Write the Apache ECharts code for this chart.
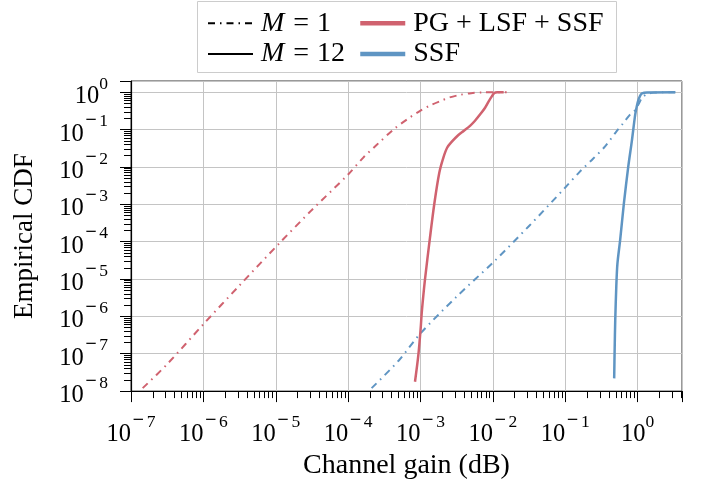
<!DOCTYPE html>
<html><head><meta charset="utf-8">
<script src="https://cdn.jsdelivr.net/npm/echarts@6/dist/echarts.min.js"></script>
<style>html,body{margin:0;padding:0;background:#fff}#c{width:701px;height:485px}</style>
</head><body><div id="c"></div>
<script>
// Tick exponents shown as 10^n labels
const xTickExponents = [-7, -6, -5, -4, -3, -2, -1, 0];
const yTickExponents = [-8, -7, -6, -5, -4, -3, -2, -1, 0];
const legendStyleNames = ['M = 1', 'M = 12'];
const legendColorNames = ['PG + LSF + SSF', 'SSF'];

// PG + LSF + SSF, M = 1 (dash-dot, red)
const pgM1X = [1.45e-7, 3.16e-7, 1.0e-6, 3.16e-6, 1.15e-5, 3.16e-5, 1.0e-4, 1.62e-4, 2.51e-4, 4.21e-4, 6.46e-4, 1.0e-3, 1.41e-3, 1.86e-3, 2.51e-3, 3.51e-3, 5.01e-3, 7.08e-3, 0.0155];
const pgM1Y = [1.2e-8, 5.25e-8, 6.17e-7, 6.76e-6, 9.55e-5, 7.08e-4, 6.31e-3, 0.0178, 0.0398, 0.1, 0.186, 0.324, 0.457, 0.575, 0.724, 0.851, 0.944, 0.989, 1.0];

// PG + LSF + SSF, M = 12 (solid, red)
const pgM12X = [8.39e-4, 9.33e-4, 1.007e-3, 1.04e-3, 1.15e-3, 1.35e-3, 1.55e-3, 1.82e-3, 2.07e-3, 2.34e-3, 2.69e-3, 3.31e-3, 3.98e-3, 4.83e-3, 5.62e-3, 6.61e-3, 7.76e-3, 8.71e-3, 9.66e-3, 0.0105, 0.0115, 0.0141];
const pgM12Y = [1.78e-8, 9.12e-8, 5.01e-7, 1.26e-6, 9.33e-6, 1.26e-4, 1.02e-3, 7.08e-3, 0.0178, 0.0331, 0.0468, 0.0708, 0.0933, 0.126, 0.17, 0.251, 0.38, 0.562, 0.776, 0.955, 0.993, 1.0];

// SSF, M = 1 (dash-dot, blue)
const ssfM1X = [2.11e-4, 5.01e-4, 9.84e-4, 3.16e-3, 0.0102, 0.0316, 0.1, 0.158, 0.242, 0.355, 0.513, 0.631, 0.785, 0.933, 1.023, 1.122, 1.202, 1.38, 1.66, 2.24, 3.31];
const ssfM1Y = [1.2e-8, 6.61e-8, 3.39e-7, 3.39e-6, 2.85e-5, 2.63e-4, 2.82e-3, 7.41e-3, 0.0166, 0.0355, 0.0912, 0.148, 0.251, 0.339, 0.468, 0.661, 0.776, 0.912, 0.977, 0.995, 1.0];

// SSF, M = 12 (solid, blue)
const ssfM12X = [0.474, 0.481, 0.49, 0.507, 0.525, 0.575, 0.646, 0.741, 0.832, 0.925, 0.977, 1.028, 1.084, 1.148, 1.35, 3.31];
const ssfM12Y = [2.19e-8, 1.26e-7, 7.59e-7, 6.31e-6, 2.51e-5, 1.17e-4, 1.07e-3, 0.01, 0.0501, 0.251, 0.437, 0.631, 0.813, 0.933, 0.989, 1.0];

const RED = '#d0626f';
const BLUE = '#5f95c3';
const FONT = 'Liberation Serif';
const DASHDOT = [7, 5, 1.5, 5];

function pairs(xs, ys) { return xs.map((x, i) => [x, ys[i]]); }

function expLabel(exps) {
  return function (v) {
    const e = Math.log10(v);
    const r = Math.round(e);
    if (Math.abs(e - r) > 1e-6 || exps.indexOf(r) < 0) return '';
    return r < 0 ? '{b|10}{m|\u2212}{s|' + (-r) + '}' : '{b|10}{s|' + r + '}';
  };
}
const labelRich = {
  b: { fontFamily: FONT, fontSize: 24.5, color: '#000', lineHeight: 34, verticalAlign: 'bottom' },
  m: { fontFamily: 'DejaVu Sans', fontSize: 15, color: '#000', lineHeight: 18, verticalAlign: 'top', padding: [0, 2, 0, 1] },
  s: { fontFamily: FONT, fontSize: 17.5, color: '#000', lineHeight: 18, verticalAlign: 'top' }
};

const chart = echarts.init(document.getElementById('c'), null, { renderer: 'canvas' });

const legendText = {
  fontFamily: FONT, fontSize: 28, color: '#000', lineHeight: 30.6,
  rich: {
    g: { width: 3, lineHeight: 30.6 },
    i: { fontFamily: FONT, fontSize: 28, fontStyle: 'italic', color: '#000', lineHeight: 30.6 },
    e: { fontFamily: FONT, fontSize: 28, color: '#000', lineHeight: 30.6, padding: [0, 8, 0, 9] },
    t: { fontFamily: FONT, fontSize: 28, color: '#000', lineHeight: 30.6 }
  }
};
function legendFormatter(name) {
  if (name.indexOf('M = ') === 0) return '{g|}{i|M}{e|=}{t|' + name.slice(4) + '}';
  return '{g|}{t|' + name + '}';
}

chart.setOption({
  animation: false,
  backgroundColor: '#fff',
  textStyle: { fontFamily: FONT },
  graphic: [{
    type: 'rect', z: 0,
    shape: { x: 197.5, y: 1.5, width: 419, height: 71 },
    style: { fill: '#fff', stroke: '#cccccc', lineWidth: 1 }
  }],
  legend: [{
    orient: 'vertical', left: 207, top: 8, padding: 0,
    itemWidth: 45, itemHeight: 14, itemGap: 0, selectedMode: false,
    data: legendStyleNames, lineStyle: { width: 2 }, itemStyle: { opacity: 0 },
    formatter: legendFormatter, textStyle: legendText, z: 5
  }, {
    orient: 'vertical', left: 358, top: 8, padding: 0,
    itemWidth: 45, itemHeight: 14, itemGap: 0, selectedMode: false,
    data: legendColorNames, lineStyle: { width: 4.5 }, itemStyle: { opacity: 0 },
    formatter: legendFormatter, textStyle: legendText, z: 5
  }],
  grid: {
    left: 131, right: 19, top: 81, bottom: 89,
    show: true, borderColor: '#333', borderWidth: 1, backgroundColor: 'transparent'
  },
  xAxis: {
    type: 'log', logBase: 10, min: 1e-7, max: 4.1, splitNumber: 8,
    name: 'Channel gain (dB)', nameLocation: 'middle', nameGap: 55,
    nameTextStyle: { fontFamily: FONT, fontSize: 28, color: '#000' },
    axisLine: { show: true, lineStyle: { color: '#000', width: 1.2 } },
    axisTick: { show: true, inside: false, length: 11, lineStyle: { color: '#000', width: 1 } },
    minorTick: { show: true, splitNumber: 9, length: 7, lineStyle: { color: '#000', width: 1 } },
    splitLine: { show: true, lineStyle: { color: '#c4c4c4', width: 1 } },
    axisLabel: { margin: 22, formatter: expLabel(xTickExponents), rich: labelRich }
  },
  yAxis: {
    type: 'log', logBase: 10, min: 1e-8, max: 2, splitNumber: 8,
    name: 'Empirical CDF', nameLocation: 'middle', nameGap: 93,
    nameTextStyle: { fontFamily: FONT, fontSize: 27, color: '#000' },
    axisLine: { show: true, lineStyle: { color: '#000', width: 1.2 } },
    axisTick: { show: true, inside: false, length: 11, lineStyle: { color: '#000', width: 1 } },
    minorTick: { show: true, splitNumber: 9, length: 7, lineStyle: { color: '#000', width: 1 } },
    splitLine: { show: true, lineStyle: { color: '#c4c4c4', width: 1 } },
    axisLabel: { margin: 23, formatter: expLabel(yTickExponents), rich: labelRich }
  },
  series: [
    { name: 'M = 1', type: 'line', data: [], symbol: 'none', color: '#000',
      lineStyle: { color: '#000', width: 2, type: DASHDOT } },
    { name: 'M = 12', type: 'line', data: [], symbol: 'none', color: '#000',
      lineStyle: { color: '#000', width: 2, type: 'solid' } },
    { name: 'PG + LSF + SSF', type: 'line', data: pairs(pgM12X, pgM12Y), symbol: 'none', smooth: 0.3, color: RED,
      lineStyle: { color: RED, width: 2.5 }, z: 3 },
    { name: 'SSF', type: 'line', data: pairs(ssfM12X, ssfM12Y), symbol: 'none', smooth: 0.3, color: BLUE,
      lineStyle: { color: BLUE, width: 2.5 }, z: 3 },
    { name: 'PG + LSF + SSF (M = 1)', type: 'line', data: pairs(pgM1X, pgM1Y), symbol: 'none', smooth: 0.3, color: RED,
      lineStyle: { color: RED, width: 2, type: DASHDOT }, z: 2 },
    { name: 'SSF (M = 1)', type: 'line', data: pairs(ssfM1X, ssfM1Y), symbol: 'none', smooth: 0.3, color: BLUE,
      lineStyle: { color: BLUE, width: 2, type: DASHDOT }, z: 2 }
  ]
});
</script>
</body></html>
